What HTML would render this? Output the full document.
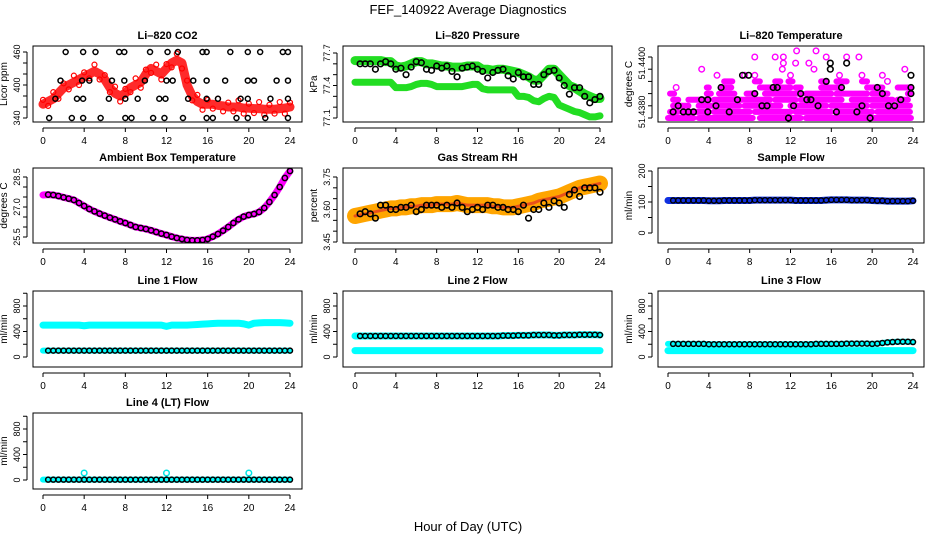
<!DOCTYPE html>
<html><head><meta charset="utf-8">
<style>
body{margin:0;background:#fff;}
svg{display:block;font-family:"Liberation Sans",sans-serif;}
</style></head>
<body>
<svg id="c" width="936" height="540" xmlns="http://www.w3.org/2000/svg">
<text x="468" y="14" text-anchor="middle" font-size="13">FEF_140922  Average Diagnostics</text>
<text x="468" y="531" text-anchor="middle" font-size="13">Hour of Day (UTC)</text>
</svg>
<script>
// ---------- data ----------
const halfHours = [0,0.5,1,1.5,2,2.5,3,3.5,4,4.5,5,5.5,6,6.5,7,7.5,8,8.5,9,9.5,10,10.5,11,11.5,12,12.5,13,13.5,14,14.5,15,15.5,16,16.5,17,17.5,18,18.5,19,19.5,20,20.5,21,21.5,22,22.5,23,23.5,24];
const co2Red = [365,370,375,385,395,400,405,410,415,420,425,420,410,395,385,380,385,395,400,405,420,430,425,420,430,440,445,440,400,380,370,365,365,365,363,362,360,360,360,358,358,357,357,356,356,356,357,358,360];
const co2BlackHours = [2.2,3.9,5.1,7.4,7.9,10.4,12.1,13.1,15.5,15.9,18.2,19.9,21.1,23.3,23.8, 1.7,3.8,4.5,6.7,7.9,9.9,12.0,12.6,14.6,15.9,17.7,19.9,20.5,22.7,23.8, 1.2,3.3,3.9,6.4,8.0,9.2,11.3,11.9,14.1,15.9,17.0,19.2,19.9,22.1,23.8, 0.6,2.8,3.9,5.6,8.0,8.6,10.7,11.8,13.6,15.9,16.5,18.8,19.9,21.6,23.8];
const co2BlackVals = [460,460,460,460,460,460,460,460,460,460,460,460,460,460,460, 408,408,408,408,408,408,408,408,408,408,408,408,408,408,408, 375,375,375,375,375,375,375,375,375,375,375,375,375,375,375, 340,340,340,340,340,340,340,340,340,340,340,340,340,340,340];
const presUpper = [77.63,77.63,77.63,77.63,77.63,77.63,77.62,77.62,77.58,77.57,77.58,77.6,77.62,77.62,77.6,77.6,77.59,77.58,77.58,77.57,77.57,77.57,77.58,77.58,77.58,77.55,77.55,77.54,77.55,77.55,77.54,77.53,77.52,77.5,77.48,77.45,77.45,77.5,77.55,77.55,77.5,77.45,77.4,77.38,77.35,77.32,77.3,77.28,77.28];
const presLower = [77.43,77.43,77.43,77.43,77.43,77.43,77.43,77.43,77.38,77.38,77.38,77.39,77.41,77.42,77.42,77.41,77.39,77.39,77.39,77.39,77.39,77.39,77.4,77.41,77.41,77.37,77.36,77.36,77.36,77.36,77.36,77.36,77.3,77.3,77.29,77.26,77.25,77.28,77.3,77.29,77.22,77.2,77.18,77.16,77.15,77.13,77.11,77.11,77.12];
const presBlack = [77.6,77.6,77.6,77.6,77.55,77.6,77.62,77.6,77.55,77.56,77.5,77.57,77.62,77.61,77.55,77.54,77.58,77.56,77.58,77.53,77.48,77.56,77.57,77.58,77.55,77.53,77.47,77.52,77.54,77.55,77.49,77.46,77.52,77.48,77.48,77.41,77.41,77.5,77.53,77.54,77.47,77.4,77.32,77.38,77.38,77.3,77.24,77.27,77.3];
const tempRunStart = [0,3,9,13.5, 0.2,1.5,4.5,8.5,12.5,16.5,20.5, 0.5,3,7.5,12,16,20, 0.5,2,4.5,10.5,13,18,22.5, 0.2,3.8,5,7.7,9.5,13.5,16.5,20,23.5, 0.8,3.8,5.3,9,11,12.5,15,19.5,22.5, 5.5,8.5,10.5,11.8,15,16.5,19,21.5, 4.8,7.5,8.5,12,16.8,19,21, 3.3,11.2,14.3,23.2, 11.3,12.5,13.8, 8.5,10.5,11.3,15.5,17.5,18.7, 12.6,14.5];
const tempRunEnd   = [2.5,8.3,13,23.8, 1,4,8,12,16,20,23.7, 2,7,11,15.5,19.5,23.7, 1,4,10,12.5,17,22,23.5, 0.6,4.2,6.5,8.5,13,16,19.5,21.5,23.8, 0.8,4,6.2,10.5,12,13,17,21,23.8, 6.3,9,11,12.2,15.5,17.5,19.5,21.5, 4.8,7.5,8.5,12,16.8,19,21, 3.3,11.2,14.3,23.2, 11.3,12.5,13.8, 8.5,10.5,11.3,15.5,17.5,18.7, 12.6,14.5];
const tempRunLevel = [51.4380,51.4380,51.4380,51.4380, 51.4382,51.4382,51.4382,51.4382,51.4382,51.4382,51.4382, 51.4384,51.4384,51.4384,51.4384,51.4384,51.4384, 51.4386,51.4386,51.4386,51.4386,51.4386,51.4386,51.4386, 51.4388,51.4388,51.4388,51.4388,51.4388,51.4388,51.4388,51.4388,51.4388, 51.4390,51.4390,51.4390,51.4390,51.4390,51.4390,51.4390,51.4390,51.4390, 51.4392,51.4392,51.4392,51.4392,51.4392,51.4392,51.4392,51.4392, 51.4394,51.4394,51.4394,51.4394,51.4394,51.4394,51.4394, 51.4396,51.4396,51.4396,51.4396, 51.4398,51.4398,51.4398, 51.4400,51.4400,51.4400,51.4400,51.4400,51.4400, 51.4402,51.4402];
const tempBlackHours = [0.5,1,1.5,2,2.5,3.3,3.9,3.9,4.7,5.2,6,6.8,7.3,7.9,8.5,9.2,9.7,10.3,10.7,11.8,12.3,13,13.6,14,14.7,15.5,15.9,15.9,16.5,17,17.5,18.5,19,19.8,20.5,21,21.6,22.2,22.8,23.8,23.8,23.8];
const tempBlackVals = [51.4382,51.4384,51.4382,51.4382,51.4382,51.4386,51.4386,51.4382,51.4384,51.4390,51.4382,51.4386,51.4394,51.4394,51.4388,51.4384,51.4384,51.4390,51.4390,51.4380,51.4384,51.4388,51.4386,51.4386,51.4384,51.4392,51.4398,51.4396,51.4382,51.4390,51.4398,51.4382,51.4384,51.4380,51.4390,51.4388,51.4384,51.4384,51.4386,51.4388,51.4390,51.4394];
const ambient = [27.6,27.62,27.6,27.55,27.48,27.42,27.35,27.2,27.05,26.9,26.78,26.67,26.57,26.47,26.38,26.28,26.2,26.1,26.0,25.95,25.9,25.83,25.75,25.67,25.6,25.52,25.45,25.4,25.35,25.33,25.33,25.35,25.4,25.52,25.65,25.82,26.0,26.2,26.38,26.52,26.6,26.65,26.75,26.95,27.25,27.6,28.0,28.45,28.8];
const rhBand = [3.57,3.575,3.58,3.585,3.59,3.595,3.6,3.605,3.605,3.61,3.61,3.615,3.615,3.62,3.62,3.62,3.625,3.625,3.625,3.625,3.63,3.625,3.62,3.62,3.62,3.62,3.62,3.615,3.615,3.61,3.61,3.61,3.615,3.62,3.625,3.63,3.64,3.645,3.65,3.655,3.66,3.67,3.68,3.69,3.7,3.705,3.71,3.715,3.72];
const rhBlack = [3.58,3.58,3.59,3.58,3.56,3.62,3.62,3.6,3.6,3.61,3.61,3.62,3.59,3.6,3.62,3.62,3.62,3.61,3.62,3.61,3.63,3.61,3.59,3.6,3.61,3.6,3.62,3.62,3.61,3.61,3.6,3.6,3.59,3.62,3.56,3.6,3.6,3.63,3.61,3.64,3.63,3.61,3.67,3.69,3.66,3.7,3.7,3.7,3.68];
const sampleFlow = [105,105,105,105,105,105,105,105,104,104,104,105,105,105,105,105,105,106,106,106,106,106,106,106,106,105,105,105,105,105,105,106,107,107,107,107,106,106,106,106,105,104,104,103,103,103,103,103,104];
const line1Cyan = [500,500,500,500,500,500,500,500,490,500,500,500,500,500,500,500,500,500,500,500,500,500,500,500,480,500,500,500,500,505,510,515,520,525,530,530,530,530,530,520,500,530,535,540,540,540,540,535,530];
const line1Black = [100,100,100,100,100,100,100,100,100,100,100,100,100,100,100,100,100,100,100,100,100,100,100,100,100,100,100,100,100,100,100,100,100,100,100,100,100,100,100,100,100,100,100,100,100,100,100,100,100];
const line2Black = [330,330,330,330,330,330,330,330,330,330,330,330,330,330,330,330,330,330,330,330,330,330,330,330,330,330,330,330,330,335,335,335,340,340,340,345,345,345,345,340,340,345,345,345,350,350,350,350,345];
const line2Low = [100,100,100,100,100,100,100,100,100,100,100,100,100,100,100,100,100,100,100,100,100,100,100,100,100,100,100,100,100,100,100,100,100,100,100,100,100,100,100,100,100,100,100,100,100,100,100,100,100];
const line3Black = [205,205,205,205,205,205,205,205,200,200,200,200,200,200,200,200,200,200,200,200,200,200,200,200,200,200,200,200,200,205,205,205,205,205,205,210,210,210,210,210,205,210,220,230,235,240,240,240,235];
const line4Black = [5,5,5,5,5,5,5,5,5,5,5,5,5,5,5,5,5,5,5,5,5,5,5,5,5,5,5,5,5,5,5,5,5,5,5,5,5,5,5,5,5,5,5,5,5,5,5,5,5];
const line4SpikeHours = [4,12,20];
const line4SpikeVals = [110,110,110];
const xTicks = [0,4,8,12,16,20,24];

// ---------- drawing ----------
const svg = document.getElementById('c');
const NS = 'http://www.w3.org/2000/svg';
function el(tag, attrs, parent){
  const e = document.createElementNS(NS, tag);
  for (const k in attrs) e.setAttribute(k, attrs[k]);
  (parent||svg).appendChild(e);
  return e;
}
function makePanel(c){
  const g = el('g', {});
  
  
  const sx = h => c.hx0 + (h/24)*(c.hx1-c.hx0);
  const sy = v => c.p0 + (v-c.v0)/(c.v1-c.v0)*(c.p1-c.p0);
  const t = el('text', {x:(c.bx0+c.bx1)/2, y:c.by0-7, 'text-anchor':'middle','font-size':11,'font-weight':'bold'}, g);
  t.textContent = c.title;
  
  
  const xa = el('g', {stroke:'#000','stroke-width':1}, g);
  
  
  el('line', {x1:sx(0), x2:sx(24), y1:c.by1+6, y2:c.by1+6}, xa);
  xTicks.forEach(h=>{
    el('line', {x1:sx(h), x2:sx(h), y1:c.by1+6, y2:c.by1+10}, xa);
    const l = el('text', {x:sx(h), y:c.by1+22, 'text-anchor':'middle','font-size':10, stroke:'none'}, xa);
    l.textContent = h;
    
    
  });
  const ya = el('g', {stroke:'#000','stroke-width':1}, g);
  
  
  const ax = c.bx0-6;
  el('line', {x1:ax, x2:ax, y1:sy(c.yticks[0]), y2:sy(c.yticks[c.yticks.length-1])}, ya);
  c.yticks.forEach(v=>el('line', {x1:ax-4, x2:ax, y1:sy(v), y2:sy(v)}, ya));
  c.ylabels.forEach((v,i)=>{
    const l = el('text', {x:0, y:0, 'text-anchor':'middle','font-size':9, stroke:'none', transform:`translate(${ax-7},${sy(v)}) rotate(-90)`}, ya);
    l.textContent = c.ylabelText ? c.ylabelText[i] : v;
    
    
  });
  const yt = el('text', {x:0,y:0,'text-anchor':'middle','font-size':10, transform:`translate(${ax-20},${(c.by0+c.by1)/2}) rotate(-90)`}, g);
  yt.textContent = c.ylab;
  
  
  const cid = 'clip-'+c.name;
  const cp = el('clipPath', {id:cid}, g);
  el('rect', {x:c.bx0, y:c.by0, width:c.bx1-c.bx0, height:c.by1-c.by0}, cp);
  const d = el('g', {'clip-path':`url(#${cid})`}, g);
  
  
  const box = el('rect', {x:c.bx0, y:c.by0, width:c.bx1-c.bx0, height:c.by1-c.by0, fill:'none', stroke:'#000','stroke-width':1}, g);
  
  
  return {d, sx, sy};
}
function band(p, hours, vals, color, w, name){
  const pl = el('polyline', {points: hours.map((h,i)=>p.sx(h)+','+p.sy(vals[i])).join(' '), fill:'none', stroke:color, 'stroke-width':w, 'stroke-linecap':'round','stroke-linejoin':'round'}, p.d);
  
  
}
function points(p, hours, vals, color, r, sw, name){
  hours.forEach((h,i)=>{
    const ci = el('circle', {cx:p.sx(h), cy:p.sy(vals[i]), r:r, fill:'none', stroke:color, 'stroke-width':sw}, p.d);
    
    
  });
}
const C1 = {bx0:33,bx1:302,hx0:43,hx1:290}, C2 = {bx0:343,bx1:612,hx0:355,hx1:600}, C3 = {bx0:658,bx1:924,hx0:668,hx1:913};
const R1 = {by0:46,by1:122}, R2 = {by0:168,by1:243}, R3 = {by0:291,by1:367}, R4 = {by0:413,by1:489};
const flowTicks = [0,200,400,600,800,1000], flowLabels = [0,400,800];

let p = makePanel(Object.assign({name:'co2-panel', title:'Li\u2013820 CO2', ylab:'Licor ppm', v0:340,p0:118,v1:460,p1:52, yticks:[340,360,380,400,420,440,460], ylabels:[340,400,460]}, C1, R1));
band(p, halfHours, co2Red, '#ff2a2a', 9, 'co2-red-series');
points(p, halfHours, co2Red.map((v,i)=>v + [8,-8,12,-10][i%4]), '#ff0000', 2.5, 1.2, 'co2-red-point');
points(p, co2BlackHours, co2BlackVals, '#000', 2.5, 1.5, 'co2-black-point');

p = makePanel(Object.assign({name:'pressure-panel', title:'Li\u2013820 Pressure', ylab:'kPa', v0:77.1,p0:118,v1:77.7,p1:53, yticks:[77.1,77.2,77.3,77.4,77.5,77.6,77.7], ylabels:[77.1,77.4,77.7]}, C2, R1));
band(p, halfHours, presUpper, '#22dd22', 9, 'pressure-upper-band');
band(p, halfHours, presLower, '#22dd22', 7, 'pressure-lower-band');
points(p, halfHours.slice(1), presBlack.slice(1), '#000', 2.8, 1.6, 'pressure-black-point');

p = makePanel(Object.assign({name:'li820-temperature-panel', title:'Li\u2013820 Temperature', ylab:'degrees C', v0:51.438,p0:118,v1:51.440,p1:57, yticks:[51.438,51.4384,51.4388,51.4392,51.4396,51.440], ylabels:[51.4382,51.4398], ylabelText:['51.4380','51.4400']}, C3, R1));
tempRunStart.forEach((s,i)=>{
  const e = tempRunEnd[i];
  if (e - s < 0.05){ points(p, [s], [tempRunLevel[i]], '#ff00ff', 2.8, 1.4, 'temperature-magenta-point'); return; }
  band(p, [s,e], [tempRunLevel[i],tempRunLevel[i]], '#ff00ff', 6, 'temperature-magenta-run');
});
points(p, tempBlackHours, tempBlackVals, '#000', 2.8, 1.6, 'temperature-black-point');

p = makePanel(Object.assign({name:'ambient-box-temperature-panel', title:'Ambient Box Temperature', ylab:'degrees C', v0:25.5,p0:237,v1:28.5,p1:177, yticks:[25.5,26,26.5,27,27.5,28,28.5], ylabels:[25.5,'27.0',28.5]}, C1, R2));
band(p, halfHours, ambient, '#ff00ff', 7, 'ambient-magenta-series');
points(p, halfHours.slice(1), ambient.slice(1), '#000', 2.6, 1.5, 'ambient-black-point');

p = makePanel(Object.assign({name:'gas-stream-rh-panel', title:'Gas Stream RH', ylab:'percent', v0:3.45,p0:242,v1:3.75,p1:177, yticks:[3.45,3.5,3.55,3.6,3.65,3.7,3.75], ylabels:[3.45,'3.60',3.75]}, C2, R2));
band(p, halfHours, rhBand, '#ffa500', 16, 'rh-orange-band');
band(p, halfHours, rhBand, '#e8501a', 3, 'rh-red-core');
points(p, halfHours.slice(1), rhBlack.slice(1), '#000', 2.8, 1.6, 'rh-black-point');

p = makePanel(Object.assign({name:'sample-flow-panel', title:'Sample Flow', ylab:'ml/min', v0:0,p0:233,v1:200,p1:171, yticks:[0,50,100,150,200], ylabels:[0,100,200]}, C3, R2));
band(p, halfHours, sampleFlow, '#1030e0', 7, 'sample-flow-blue-series');
points(p, halfHours.slice(1), sampleFlow.slice(1), '#000', 2.5, 1.4, 'sample-flow-black-point');

p = makePanel(Object.assign({name:'line1-flow-panel', title:'Line 1 Flow', ylab:'ml/min', v0:0,p0:357,v1:800,p1:306, yticks:flowTicks, ylabels:flowLabels}, C1, R3));
band(p, halfHours, line1Cyan, '#00ffff', 7, 'line1-cyan-series');
band(p, halfHours, line1Black, '#00ffff', 6, 'line1-cyan-low-series');
points(p, halfHours.slice(1), line1Black.slice(1), '#000', 2.5, 1.5, 'line1-black-point');

p = makePanel(Object.assign({name:'line2-flow-panel', title:'Line 2 Flow', ylab:'ml/min', v0:0,p0:357,v1:800,p1:306, yticks:flowTicks, ylabels:flowLabels}, C2, R3));
band(p, halfHours, line2Low, '#00ffff', 7, 'line2-cyan-low-series');
band(p, halfHours, line2Black, '#00ffff', 7, 'line2-cyan-series');
points(p, halfHours.slice(1), line2Black.slice(1), '#000', 2.5, 1.5, 'line2-black-point');

p = makePanel(Object.assign({name:'line3-flow-panel', title:'Line 3 Flow', ylab:'ml/min', v0:0,p0:357,v1:800,p1:306, yticks:flowTicks, ylabels:flowLabels}, C3, R3));
band(p, halfHours, line2Low, '#00ffff', 7, 'line3-cyan-low-series');
band(p, halfHours, line3Black, '#00ffff', 6, 'line3-cyan-series');
points(p, halfHours.slice(1), line3Black.slice(1), '#000', 2.5, 1.5, 'line3-black-point');

p = makePanel(Object.assign({name:'line4-flow-panel', title:'Line 4 (LT) Flow', ylab:'ml/min', v0:0,p0:480,v1:800,p1:429, yticks:flowTicks, ylabels:flowLabels}, C1, R4));
band(p, halfHours, line4Black, '#00ffff', 6, 'line4-cyan-series');
points(p, line4SpikeHours, line4SpikeVals, '#00e5e5', 2.8, 1.5, 'line4-cyan-spike');
points(p, halfHours.slice(1), line4Black.slice(1), '#000', 2.5, 1.5, 'line4-black-point');
</script>
</body></html>
